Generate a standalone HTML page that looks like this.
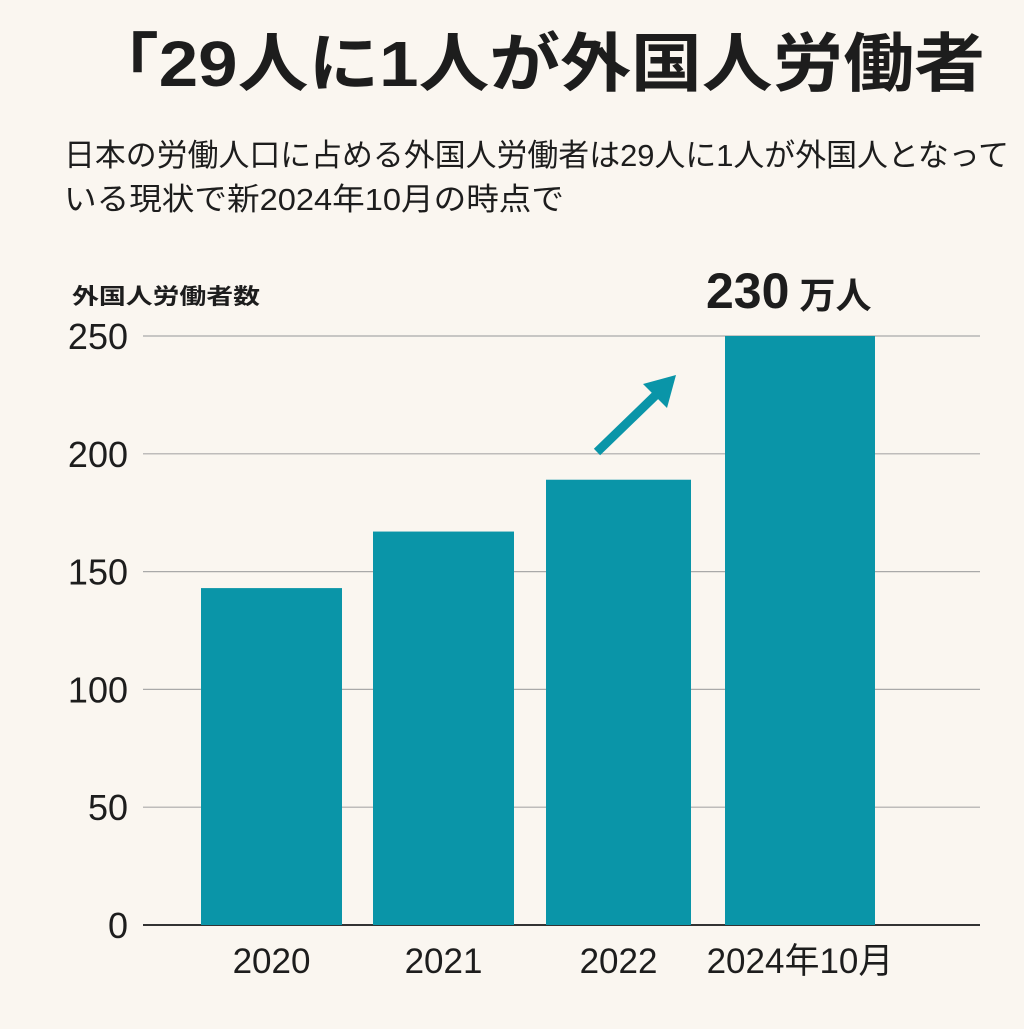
<!DOCTYPE html>
<html><head><meta charset="utf-8">
<style>
html,body{margin:0;padding:0;background:#faf6f0;}
body{width:1024px;height:1024px;overflow:hidden;font-family:"Liberation Sans","Noto Sans CJK JP",sans-serif;color:#1d1d1d;}
</style></head>
<body>
<svg width="1024" height="1024" viewBox="0 0 1024 1024" xmlns="http://www.w3.org/2000/svg">
<rect width="1024" height="1024" fill="#faf6f0"/>
<text x="88" y="86" font-size="64" font-weight="bold" textLength="897" lengthAdjust="spacingAndGlyphs" font-family="Liberation Sans,Noto Sans CJK JP,sans-serif" fill="#1d1d1d">「29人に1人が外国人労働者</text>
<text x="64" y="166" font-size="31" textLength="945" lengthAdjust="spacingAndGlyphs" font-family="Liberation Sans,Noto Sans CJK JP,sans-serif" fill="#1d1d1d">日本の労働人口に占める外国人労働者は29人に1人が外国人となって</text>
<text x="64" y="210" font-size="31" textLength="500" lengthAdjust="spacingAndGlyphs" font-family="Liberation Sans,Noto Sans CJK JP,sans-serif" fill="#1d1d1d">いる現状で新2024年10月の時点で</text>
<text x="72" y="304" font-size="22" font-weight="bold" textLength="188" lengthAdjust="spacingAndGlyphs" font-family="Liberation Sans,Noto Sans CJK JP,sans-serif" fill="#1d1d1d">外国人労働者数</text>
<g id="grid"></g>
<g id="bars"></g>
<g id="labels"></g>
<text x="706" y="308" font-size="50" font-weight="bold" font-family="Liberation Sans,Noto Sans CJK JP,sans-serif" fill="#1d1d1d">230<tspan font-size="36" dx="10">万人</tspan></text>
<g>
<line x1="597" y1="452" x2="660" y2="391" stroke="#0a95a8" stroke-width="9"/>
<polygon points="676,375 643,384 667,408" fill="#0a95a8"/>
</g>
</svg>
<script>
const categories=["2020","2021","2022","2024年10月"];
const values=[143,167,189,250];
const ticks=[0,50,100,150,200,250];
const NS="http://www.w3.org/2000/svg";
const y0=925,yTop=336,maxV=250;
function yScale(v){return y0-(v/maxV)*(y0-yTop);}
const barX=[201,373,546,725],barW=[141,141,145,150];
function xBand(i){return barX[i];}
const grid=document.getElementById('grid');
ticks.forEach(t=>{
 const l=document.createElementNS(NS,'line');
 l.setAttribute('x1',143);l.setAttribute('x2',980);
 l.setAttribute('y1',yScale(t));l.setAttribute('y2',yScale(t));
 l.setAttribute('stroke',t===0?'#333':'#a9a9a9');l.setAttribute('stroke-width',t===0?2:1.2);
 
 
 grid.appendChild(l);
 const tx=document.createElementNS(NS,'text');
 tx.setAttribute('x',128);tx.setAttribute('y',yScale(t)+13);
 tx.setAttribute('text-anchor','end');tx.setAttribute('font-size','36');
 tx.setAttribute('fill','#1d1d1d');
 tx.textContent=t;
 
 
 grid.appendChild(tx);
});
const bars=document.getElementById('bars'),labels=document.getElementById('labels');
categories.forEach((c,i)=>{
 const r=document.createElementNS(NS,'rect');
 const yy=yScale(values[i]);
 r.setAttribute('x',xBand(i));r.setAttribute('width',barW[i]);
 r.setAttribute('y',yy);r.setAttribute('height',y0-yy);
 r.setAttribute('fill','#0a95a8');
 
 
 bars.appendChild(r);
 const t=document.createElementNS(NS,'text');
 t.setAttribute('x',xBand(i)+barW[i]/2);t.setAttribute('y',973);
 t.setAttribute('text-anchor','middle');t.setAttribute('font-size','35');
 t.setAttribute('fill','#1d1d1d');
 t.textContent=c;
 
 
 labels.appendChild(t);
});
</script>
</body></html>
